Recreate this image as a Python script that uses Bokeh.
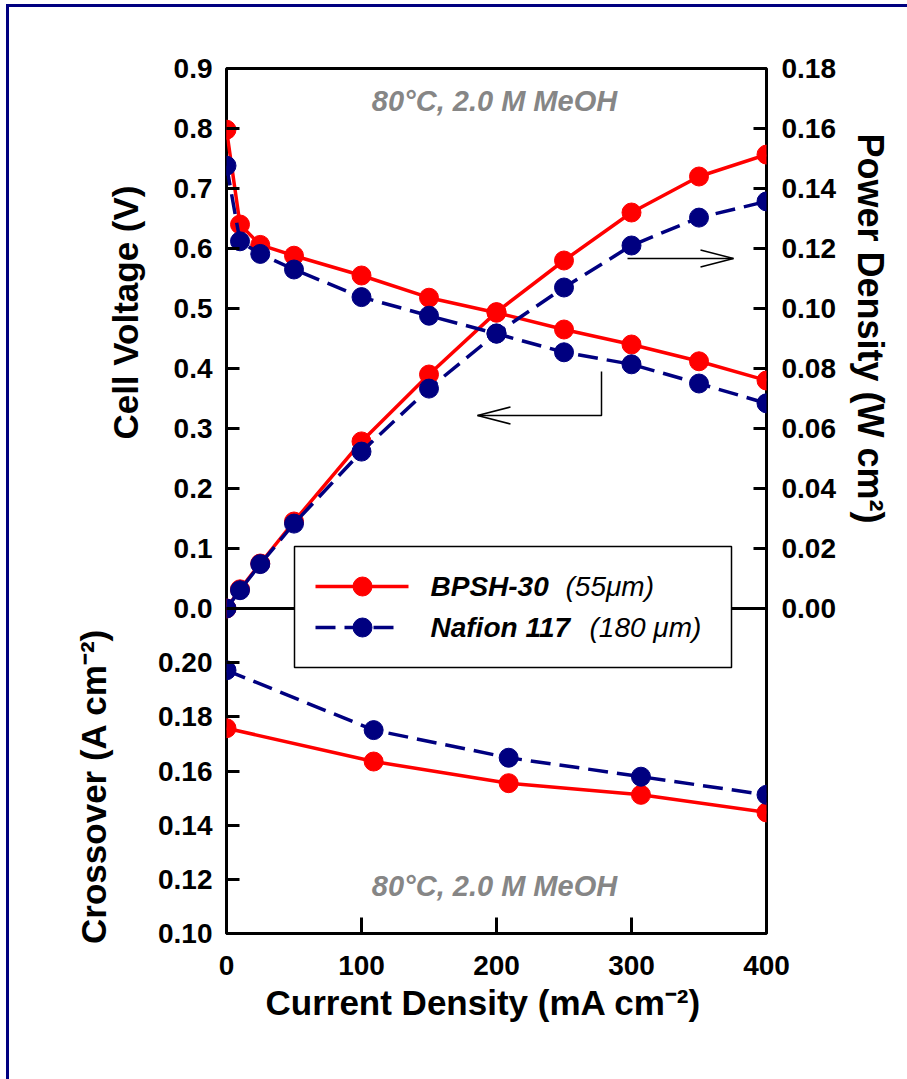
import numpy as np
from bokeh.plotting import figure
from bokeh.layouts import column
from bokeh.models import Range1d, LinearAxis, FixedTicker, NumeralTickFormatter, Label, Title
from bokeh.embed import file_html
from bokeh.resources import INLINE

# ---- data -------------------------------------------------------------
# polarisation / power curves, current density in mA cm-2
current = [0, 10, 25, 50, 100, 150, 200, 250, 300, 350, 400]
bpsh_voltage = [0.798, 0.640, 0.606, 0.588, 0.555, 0.518, 0.493, 0.465, 0.440, 0.412, 0.380]
nafion_voltage = [0.738, 0.612, 0.591, 0.565, 0.519, 0.488, 0.458, 0.427, 0.407, 0.375, 0.342]
bpsh_power = [0.0, 0.0064, 0.0150, 0.0290, 0.0557, 0.0780, 0.0988, 0.1160, 0.1320, 0.1440, 0.1513]
nafion_power = [0.0, 0.0061, 0.0148, 0.0283, 0.0523, 0.0733, 0.0917, 0.1070, 0.1210, 0.1303, 0.1357]

# methanol crossover
crossover_current = [0, 109, 209, 307, 400]
bpsh_crossover = [0.1758, 0.1635, 0.1555, 0.1512, 0.1447]
nafion_crossover = [0.1972, 0.1751, 0.1649, 0.1579, 0.1512]

x_ticks = [0, 100, 200, 300, 400]
voltage_ticks = [0.0, 0.1, 0.2, 0.3, 0.4, 0.5, 0.6, 0.7, 0.8, 0.9]
power_ticks = [0.00, 0.02, 0.04, 0.06, 0.08, 0.10, 0.12, 0.14, 0.16, 0.18]
crossover_ticks = [0.10, 0.12, 0.14, 0.16, 0.18, 0.20]

series_names = ["BPSH-30", "Nafion 117"]
series_notes = ["(55\u03bcm)", "(180 \u03bcm)"]
condition_text = "80\u00b0C, 2.0 M MeOH"

# ---- layout (page pixels) --------------------------------------------
PAGE_W, PAGE_H = 907, 1079
FRAME_L, FRAME_R, FRAME_T, FRAME_B = 226, 766, 68, 933
SPLIT = 608  # boundary between the voltage/power panel and the crossover panel

X_MAX = 400.0
V_TOP = 0.9
V_PER_PX = V_TOP / (SPLIT - FRAME_T)
V_BOTTOM = -(FRAME_B - SPLIT) * V_PER_PX
P_TOP = 0.18
P_BOTTOM = -(FRAME_B - SPLIT) * P_TOP / (SPLIT - FRAME_T)
C_BOTTOM, C_SPLIT = 0.10, 0.22
C_TOP = C_SPLIT + (SPLIT - FRAME_T) * (C_SPLIT - C_BOTTOM) / (FRAME_B - SPLIT)


def xa(px):
    return (px - FRAME_L) / (FRAME_R - FRAME_L) * X_MAX


def va(py):
    return (SPLIT - py) * V_PER_PX


def cross_to_v(c):
    # position of a crossover value on the shared left (voltage) scale
    return V_BOTTOM + (c - C_BOTTOM) * (V_TOP - V_BOTTOM) / (C_TOP - C_BOTTOM)


FONT = "Liberation Sans"
RED = "#ff0000"
NAVY = "#000080"
TICK_FS = "28px"
TITLE_FS = "35px"

fig = figure(width=PAGE_W, height=PAGE_H, output_backend="svg", toolbar_location=None,
             x_axis_type=None, y_axis_type=None,
             x_range=Range1d(0, X_MAX), y_range=Range1d(V_BOTTOM, V_TOP),
             min_border_left=FRAME_L, min_border_right=PAGE_W - FRAME_R,
             min_border_top=FRAME_T, min_border_bottom=PAGE_H - FRAME_B)
fig.border_fill_color = None
fig.background_fill_color = "white"
fig.extra_y_ranges = {"power": Range1d(P_BOTTOM, P_TOP), "cross": Range1d(C_BOTTOM, C_TOP)}
fig.outline_line_color = "black"
fig.outline_line_width = 3


def style_axis(ax, tick_len, standoff):
    ax.axis_line_color = None
    ax.major_tick_in = tick_len
    ax.major_tick_out = 0
    ax.major_tick_line_width = 3
    ax.minor_tick_line_color = None
    ax.major_label_text_font = FONT
    ax.major_label_text_font_style = "bold"
    ax.major_label_text_font_size = TICK_FS
    ax.major_label_text_color = "black"
    ax.major_label_standoff = standoff


# left: cell voltage (upper panel) and crossover (lower panel) share one axis
left_ticks = voltage_ticks + [cross_to_v(c) for c in crossover_ticks]
left_labels = {v: f"{v:.1f}" for v in voltage_ticks}
left_labels.update({cross_to_v(c): f"{c:.2f}" for c in crossover_ticks})
ax_l = LinearAxis(ticker=FixedTicker(ticks=left_ticks), major_label_overrides=left_labels)
style_axis(ax_l, 13, 14)
fig.add_layout(ax_l, "left")

ax_p = LinearAxis(y_range_name="power", ticker=FixedTicker(ticks=power_ticks),
                  formatter=NumeralTickFormatter(format="0.00"))
style_axis(ax_p, 13, 15)
fig.add_layout(ax_p, "right")

ax_x = LinearAxis(ticker=FixedTicker(ticks=x_ticks), formatter=NumeralTickFormatter(format="0"))
style_axis(ax_x, 16, 22)
fig.add_layout(ax_x, "below")


def axis_title(text, align, offset, standoff, size=TITLE_FS):
    return Title(text=text, align=align, offset=offset, standoff=standoff,
                 text_font=FONT, text_font_style="bold", text_font_size=size,
                 text_color="black")


fig.add_layout(axis_title("Cell Voltage (V)", "right", 117, 22), "left")
fig.add_layout(axis_title("Crossover (A cm\u207b\u00b2)", "right", 560, -40), "left")
fig.add_layout(axis_title("Power Density (W cm\u00b2)", "left", 65, 22, "36px"), "right")
fig.add_layout(axis_title("Current Density (mA cm\u207b\u00b2)", "left", 39, 6), "below")

# boundary line between the two panels
fig.segment(x0=[0], y0=[0], x1=[X_MAX], y1=[0], line_color="black", line_width=3)

LW = 3.5
MS = 19
DASH = "20 9"

# polarisation and power curves
fig.line(current, bpsh_voltage, line_color=RED, line_width=LW)
fig.scatter(current, bpsh_voltage, marker="circle", size=MS, color=RED)
fig.line(current, bpsh_power, line_color=RED, line_width=LW, y_range_name="power")
fig.scatter(current, bpsh_power, marker="circle", size=MS, color=RED, y_range_name="power")

fig.line(current, nafion_voltage, line_color=NAVY, line_width=LW, line_dash=DASH)
fig.scatter(current, nafion_voltage, marker="circle", size=MS, color=NAVY)
fig.line(current, nafion_power, line_color=NAVY, line_width=LW, line_dash=DASH, y_range_name="power")
fig.scatter(current, nafion_power, marker="circle", size=MS, color=NAVY, y_range_name="power")

# crossover curves
fig.line(crossover_current, bpsh_crossover, line_color=RED, line_width=LW, y_range_name="cross")
fig.scatter(crossover_current, bpsh_crossover, marker="circle", size=MS, color=RED, y_range_name="cross")
fig.line(crossover_current, nafion_crossover, line_color=NAVY, line_width=LW, line_dash=DASH,
         y_range_name="cross")
fig.scatter(crossover_current, nafion_crossover, marker="circle", size=MS, color=NAVY,
            y_range_name="cross")

# arrows pointing towards the relevant axis
hx, hy = 33 / 1.35, 8.5 * V_PER_PX
a1y = va(415)
a1_tip, a1_end = xa(477), xa(601)
fig.multi_line(xs=[[a1_end, a1_end, a1_tip], [a1_tip + hx, a1_tip, a1_tip + hx]],
               ys=[[va(371), a1y, a1y], [a1y + hy, a1y, a1y - hy]],
               line_color="black", line_width=1.5)
a2y = va(258)
a2_tip, a2_start = xa(733), xa(627)
fig.multi_line(xs=[[a2_start, a2_tip], [a2_tip - hx, a2_tip, a2_tip - hx]],
               ys=[[a2y, a2y], [a2y + hy, a2y, a2y - hy]],
               line_color="black", line_width=1.5)

# legend
fig.quad(left=[xa(294)], right=[xa(731)], top=[va(546)], bottom=[va(667)],
         fill_color="white", line_color="black", line_width=1.5)
leg_colors = [RED, NAVY]
leg_dash = ["solid", DASH]
leg_rows = [va(586), va(627)]
leg_ends = [xa(408), xa(397)]
note_x = [xa(565), xa(589)]
for i in range(2):
    fig.line([xa(315), leg_ends[i]], [leg_rows[i], leg_rows[i]], line_color=leg_colors[i],
             line_width=LW, line_dash=leg_dash[i])
    fig.scatter([xa(362)], [leg_rows[i]], marker="circle", size=MS, color=leg_colors[i])
    fig.add_layout(Label(x=xa(430), y=leg_rows[i], text=series_names[i], text_font=FONT,
                         text_font_style="bold italic", text_font_size="28px", text_color="black",
                         text_baseline="middle", text_align="left"))
    fig.add_layout(Label(x=note_x[i], y=leg_rows[i], text=series_notes[i], text_font=FONT,
                         text_font_style="italic", text_font_size="28px", text_color="black",
                         text_baseline="middle", text_align="left"))

# operating conditions
for py in (100, 885):
    fig.add_layout(Label(x=xa(494), y=va(py), text=condition_text, text_font=FONT,
                         text_font_style="bold italic", text_font_size="29px", text_color="#868686",
                         text_baseline="middle", text_align="center"))

# page with a thin navy rule along the left and top edges (inset shadows)
p = column(fig, width=PAGE_W, height=PAGE_H)
p.styles = {
    "background-color": "white",
    "box-shadow": "inset 6px 4px 0 0 #ffffff, inset 9px 7px 0 0 #000080",
}

open("out.html", "w").write(file_html(p, INLINE))
